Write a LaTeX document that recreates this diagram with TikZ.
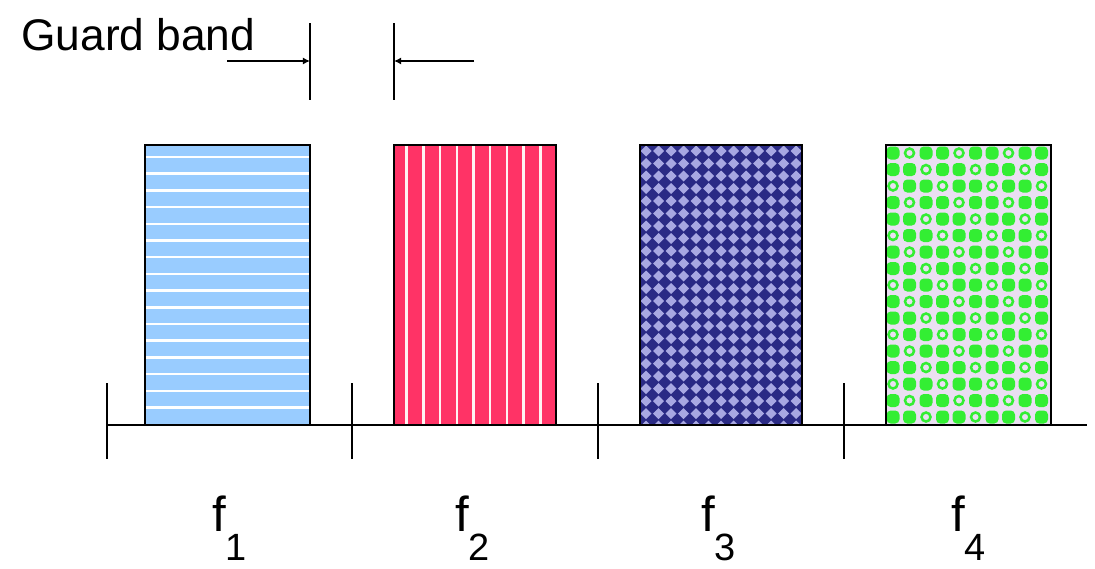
\documentclass[tikz,border=0pt]{standalone}
\usepackage{fontspec}
\setmainfont{Liberation Sans}
\usetikzlibrary{arrows.meta, positioning}

\definecolor{bandblue}{HTML}{99CCFF}
\definecolor{bandred}{HTML}{FF3366}
\definecolor{bandnavy}{HTML}{2A2A85}
\definecolor{bandlilac}{HTML}{A8A8E2}
\definecolor{bandgreen}{HTML}{33EE33}
\definecolor{bandpale}{HTML}{EADFF2}

\tikzset{
  bandbox/.style={draw=black, line width=1.8pt},
  axistick/.style={line width=1.3pt},
  flabel/.style={font=\fontsize{35}{38}\selectfont, inner sep=0pt},
}

\newcommand{\chanlabel}[1]{f\raisebox{-21pt}{\fontsize{27}{30}\selectfont #1}}

\begin{document}
\begin{tikzpicture}[>=Stealth, x=0.025cm, y=-0.025cm]
    \useasboundingbox (0,0) rectangle (1095,568);

    % Axis
    \coordinate (a0) at (107,425);
    \coordinate (a1) at (1087,425);

    % Tick marks on the axis
    \foreach \x in {107, 352, 598, 844}
        \draw[axistick] (\x,383) -- (\x,459);

    % Band f1: horizontal stripes
    \fill[bandblue] (145,145) rectangle (310,425);
    \foreach \y in {157,173.7,...,420}
        \draw[white, line width=1.8pt] (145,\y) -- (310,\y);

    % Band f2: vertical stripes
    \fill[bandred] (394,145) rectangle (556,425);
    \foreach \x in {406.7,423.4,...,550}
        \draw[white!80!pink, line width=1.8pt] (\x,145) -- (\x,425);

    % Band f3: diamonds
    \begin{scope}
        \clip (640,145) rectangle (802,425);
        \fill[bandnavy] (640,145) rectangle (802,425);
        \foreach \i in {0,...,13}
            \foreach \j in {0,...,23}
                \fill[bandlilac] ({646+\i*12.5},{151+\j*12.5})
                    +(-5.5,0) -- +(0,-5.5) -- +(5.5,0) -- +(0,5.5) -- cycle;
    \end{scope}

    % Band f4: dots and rings
    \begin{scope}
        \clip (886,145) rectangle (1051,425);
        \fill[bandpale] (886,145) rectangle (1051,425);
        \foreach \i in {0,...,10}
            \foreach \j in {0,...,17} {
                \pgfmathtruncatemacro\r{mod(\i+2*\j,3)}
                \ifnum\r=1
                    \draw[bandgreen, line width=1.8pt] ({893+\i*16.5},{153+\j*16.5}) circle (4.5);
                \else
                    \fill[bandgreen, rounded corners=3pt]
                        ({886.5+\i*16.5},{146.5+\j*16.5}) rectangle ({899.5+\i*16.5},{159.5+\j*16.5});
                \fi
            }
    \end{scope}

    % Band outlines
    \draw[bandbox] (145,145) rectangle (310,425);
    \draw[bandbox] (394,145) rectangle (556,425);
    \draw[bandbox] (640,145) rectangle (802,425);
    \draw[bandbox] (886,145) rectangle (1051,425);

    \draw[line width=1.3pt] (a0) -- (a1);

    % Guard band
    \node[font=\fontsize{31.5}{34}\selectfont, inner sep=0pt, anchor=base west] (guard) at (21,50) {Guard band};
    \coordinate (g1top) at (310,23);
    \coordinate (g1bot) at (310,100);
    \coordinate (g2top) at (394,23);
    \coordinate (g2bot) at (394,100);
    \coordinate (g1tail) at (227,61);
    \coordinate (g2tail) at (474,61);
    \draw[line width=1.3pt] (g1top) -- (g1bot);
    \draw[line width=1.3pt] (g2top) -- (g2bot);
    \draw[-{Latex[length=5pt, width=5pt]}, line width=1pt] (g1tail) -- (g1tail -| g1top);
    \draw[-{Latex[length=5pt, width=5pt]}, line width=1pt] (g2tail) -- (g2tail -| g2top);

    % Channel labels
    \node[flabel, anchor=base west] (f1) at (212,531) {\chanlabel{1}};
    \node[flabel, anchor=base west] (f2) at (455,531) {\chanlabel{2}};
    \node[flabel, anchor=base west] (f3) at (701,531) {\chanlabel{3}};
    \node[flabel, anchor=base west] (f4) at (951,531) {\chanlabel{4}};

\end{tikzpicture}
\end{document}
